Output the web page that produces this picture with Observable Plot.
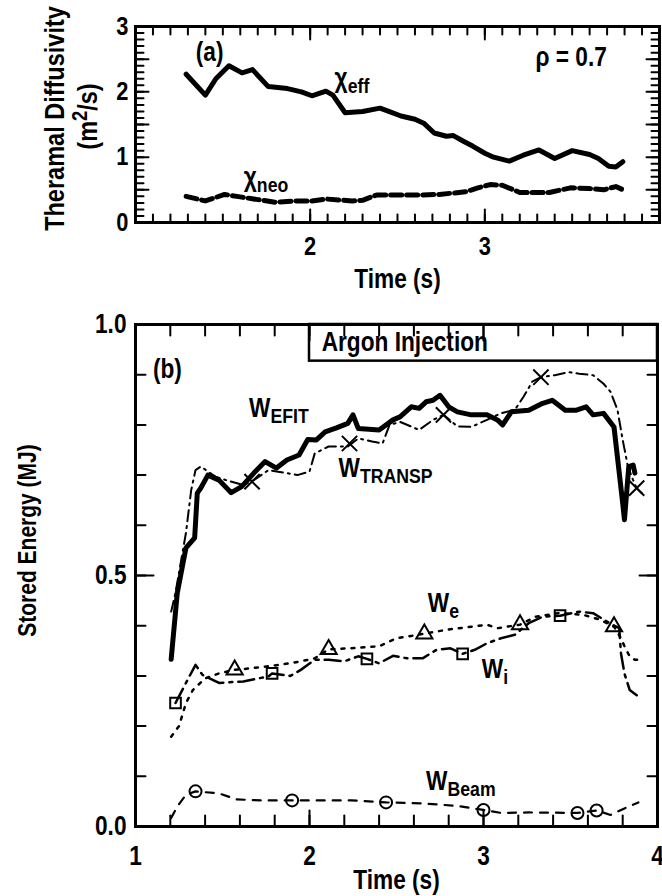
<!DOCTYPE html>
<html><head><meta charset="utf-8">
<script src="https://cdn.jsdelivr.net/npm/d3@7"></script>
<script src="https://cdn.jsdelivr.net/npm/@observablehq/plot@0.6"></script>
<style>
body{margin:0;background:#fff}
#chart{position:relative;width:662px;height:896px;background:#fff}
#chart svg{display:block}
</style>
</head><body><div id="chart"></div>
<script>
// ---------- Panel (a): thermal diffusivity at rho = 0.7 ----------
const chiEffT = [1.29,1.40,1.46,1.535,1.61,1.67,1.76,1.87,1.95,2.01,2.09,2.13,2.20,2.30,2.40,2.45,2.52,2.60,2.65,2.71,2.78,2.82,2.88,2.93,3.00,3.05,3.14,3.22,3.31,3.40,3.50,3.60,3.65,3.71,3.75,3.79];
const chiEffV = [2.27,1.95,2.20,2.40,2.29,2.34,2.08,2.05,2.00,1.94,2.01,1.95,1.68,1.70,1.75,1.70,1.63,1.58,1.52,1.37,1.32,1.33,1.24,1.17,1.06,1.00,0.94,1.03,1.11,0.98,1.10,1.04,0.98,0.86,0.85,0.93];
const chiNeoT = [1.29,1.40,1.51,1.58,1.70,1.80,1.92,2.01,2.09,2.24,2.30,2.38,2.50,2.64,2.74,2.89,2.96,3.03,3.10,3.20,3.30,3.37,3.49,3.60,3.68,3.75,3.80];
const chiNeoV = [0.40,0.33,0.43,0.40,0.35,0.31,0.33,0.33,0.36,0.33,0.34,0.42,0.42,0.42,0.43,0.47,0.53,0.58,0.57,0.46,0.46,0.46,0.53,0.52,0.50,0.55,0.49];

// ---------- Panel (b): stored energy ----------
const wEfitT = [1.205,1.24,1.29,1.34,1.355,1.375,1.416,1.48,1.55,1.61,1.68,1.745,1.81,1.87,1.94,1.99,2.04,2.09,2.155,2.22,2.25,2.28,2.40,2.48,2.52,2.585,2.63,2.67,2.71,2.75,2.80,2.85,2.93,3.02,3.08,3.11,3.16,3.26,3.34,3.395,3.47,3.53,3.59,3.63,3.69,3.75,3.80,3.81,3.835,3.86,3.87];
const wEfitV = [0.333,0.465,0.555,0.575,0.664,0.674,0.700,0.690,0.665,0.677,0.704,0.727,0.714,0.730,0.740,0.771,0.770,0.786,0.794,0.803,0.820,0.793,0.790,0.810,0.816,0.836,0.833,0.846,0.849,0.859,0.836,0.826,0.820,0.820,0.810,0.800,0.826,0.829,0.843,0.849,0.829,0.829,0.836,0.820,0.823,0.796,0.644,0.611,0.717,0.720,0.704];
const wTranspT = [1.205,1.23,1.29,1.32,1.345,1.375,1.46,1.52,1.62,1.68,1.765,1.87,1.93,2.00,2.03,2.11,2.22,2.28,2.36,2.42,2.46,2.52,2.63,2.71,2.77,2.85,2.93,3.02,3.10,3.18,3.23,3.28,3.33,3.41,3.49,3.55,3.63,3.69,3.73,3.77,3.80,3.83,3.86,3.88,3.91];
const wTranspV = [0.428,0.466,0.585,0.670,0.710,0.717,0.697,0.690,0.680,0.690,0.710,0.704,0.700,0.707,0.743,0.757,0.757,0.773,0.767,0.763,0.800,0.806,0.790,0.810,0.820,0.797,0.796,0.810,0.823,0.830,0.856,0.886,0.895,0.899,0.905,0.902,0.899,0.882,0.866,0.830,0.770,0.717,0.690,0.674,0.664];
const wTranspMarkT = [1.67,2.23,2.77,3.33,3.88];
const wTranspMarkV = [0.687,0.763,0.820,0.895,0.674];
const wET = [1.205,1.25,1.29,1.33,1.40,1.48,1.57,1.66,1.83,1.95,2.03,2.11,2.24,2.40,2.50,2.66,2.79,2.93,3.02,3.08,3.21,3.30,3.43,3.57,3.67,3.75,3.79,3.81,3.84,3.87,3.90];
const wEV = [0.179,0.200,0.246,0.272,0.295,0.305,0.312,0.315,0.322,0.329,0.335,0.353,0.355,0.359,0.375,0.384,0.392,0.398,0.402,0.395,0.402,0.418,0.425,0.422,0.412,0.398,0.375,0.359,0.339,0.332,0.332];
const wEMarkT = [1.57,2.11,2.66,3.21,3.75];
const wEMarkV = [0.312,0.353,0.384,0.402,0.398];
const wIT = [1.23,1.29,1.345,1.385,1.48,1.62,1.765,1.785,1.89,1.95,2.03,2.11,2.20,2.28,2.33,2.40,2.48,2.56,2.65,2.73,2.81,2.88,2.95,3.02,3.10,3.18,3.26,3.34,3.44,3.55,3.63,3.71,3.78,3.79,3.81,3.84,3.89];
const wIV = [0.246,0.286,0.322,0.302,0.286,0.289,0.299,0.305,0.300,0.312,0.332,0.332,0.329,0.339,0.334,0.325,0.340,0.335,0.335,0.352,0.355,0.344,0.352,0.365,0.375,0.382,0.405,0.418,0.420,0.428,0.425,0.408,0.395,0.345,0.305,0.272,0.259];
const wIMarkT = [1.23,1.785,2.33,2.88,3.44];
const wIMarkV = [0.246,0.305,0.334,0.344,0.420];
const wBeamT = [1.205,1.24,1.29,1.345,1.48,1.58,1.72,1.90,2.03,2.24,2.44,2.65,2.85,3.00,3.10,3.26,3.54,3.65,3.73,3.81,3.89];
const wBeamV = [0.017,0.040,0.063,0.070,0.066,0.054,0.052,0.052,0.052,0.052,0.048,0.046,0.041,0.033,0.027,0.028,0.027,0.032,0.023,0.036,0.048];
const wBeamMarkT = [1.345,1.90,2.44,3.00,3.54,3.65];
const wBeamMarkV = [0.070,0.052,0.048,0.033,0.027,0.032];

// ---------- ticks and labels ----------
const topXLabelTicks = [2, 3];
const topYLabelTicks = [0, 1, 2, 3];
const botXLabelTicks = [1, 2, 3, 4];
const botYLabelTicks = [0, 0.5, 1.0];
const argonBox = [{x1: 2.0, x2: 4.0, y1: 0.927, y2: 1.0}];
const topLabels = [
  {t: 1.345, v: 2.47, s: "(a)"},
  {t: 3.29, v: 2.40, s: "ρ = 0.7"},
  {t: 2.14, v: 2.07, s: "χ_{eff}"},
  {t: 1.62, v: 0.56, s: "χ_{neo}"}
];
const botLabels = [
  {t: 1.10, v: 0.893, s: "(b)"},
  {t: 2.07, v: 0.948, s: "Argon Injection"},
  {t: 1.653, v: 0.816, s: "W_{EFIT}"},
  {t: 2.167, v: 0.697, s: "W_{TRANSP}"},
  {t: 2.68, v: 0.428, s: "W_{e}"},
  {t: 2.99, v: 0.295, s: "W_{i}"},
  {t: 2.67, v: 0.072, s: "W_{Beam}"}
];

const FONT = "'Liberation Sans',Arial,sans-serif";
const SQUEEZE = 0.84;
const rows = (t, v) => t.map((x, i) => ({t: x, v: v[i]}));
const tenths = (a, b) => d3.range(a, b + 1).map(d => d / 10);
const fifths = (a, b) => d3.range(a, b + 1).map(d => d / 5);

// layout
const TOP = {width: 662, height: 300, marginLeft: 135, marginRight: 3, marginTop: 26, marginBottom: 78};
const BOT = {width: 662, height: 596, marginLeft: 135, marginRight: 5, marginTop: 24, marginBottom: 70};
const XDOM = [1, 4];
const frameW = L => L.width - L.marginLeft - L.marginRight;
const frameH = L => L.height - L.marginTop - L.marginBottom;

// inward tick marks as short two-point line segments (length given in pixels)
function tickSegments(L, yDom, specs) {
  const kx = (XDOM[1] - XDOM[0]) / frameW(L), ky = (yDom[1] - yDom[0]) / frameH(L);
  const out = [];
  let id = 0;
  for (const {side, vals, len} of specs) {
    for (const v of vals) {
      id++;
      if (side === "bottom") out.push({t: v, v: yDom[0], k: id}, {t: v, v: yDom[0] + len * ky, k: id});
      if (side === "top") out.push({t: v, v: yDom[1], k: id}, {t: v, v: yDom[1] - len * ky, k: id});
      if (side === "left") out.push({t: XDOM[0], v, k: id}, {t: XDOM[0] + len * kx, v, k: id});
      if (side === "right") out.push({t: XDOM[1], v, k: id}, {t: XDOM[1] - len * kx, v, k: id});
    }
  }
  return Plot.line(out, {x: "t", y: "v", z: "k", stroke: "black", strokeWidth: 2});
}

// Convert _{sub} and ^{sup} markup into tspans (real text)
function rich(svg) {
  d3.select(svg).selectAll("text").each(function() {
    if (this.querySelector("tspan")) return;
    const s = this.textContent;
    if (!/[_^]\{/.test(s)) return;
    const el = d3.select(this);
    el.text(null);
    const re = /([_^])\{([^}]*)\}/g;
    let last = 0, m, shift = 0;
    while ((m = re.exec(s))) {
      if (m.index > last) {
        el.append("tspan").attr("dy", (-shift) + "px").text(s.slice(last, m.index));
        shift = 0;
      }
      const d = m[1] === "_" ? 6 : -10;
      el.append("tspan").attr("dy", (d - shift) + "px").attr("font-size", "0.78em").text(m[2]);
      shift = d;
      last = re.lastIndex;
    }
    if (last < s.length) el.append("tspan").attr("dy", (-shift) + "px").text(s.slice(last));
  });
}
// condensed look: squeeze glyphs along the text direction around the anchor
function condense(svg) {
  d3.select(svg).selectAll("text").each(function() {
    const tr = this.getAttribute("transform");
    if (tr) this.setAttribute("transform", tr + ` scale(${SQUEEZE},1)`);
  });
}

const style = {fontFamily: FONT, fontWeight: "bold", background: "white", color: "black", overflow: "visible"};
const chart = document.getElementById("chart");

function panel(L, yDomain, marks) {
  const svg = Plot.plot({...L, style, x: {domain: XDOM}, y: {domain: yDomain}, marks});
  chart.appendChild(svg);
  rich(svg);
  condense(svg);
}

// ---------- Top panel ----------
panel(TOP, [0, 3], [
  Plot.line(rows(chiEffT, chiEffV), {x: "t", y: "v", stroke: "black", strokeWidth: 5, strokeLinejoin: "round"}),
  Plot.line(rows(chiNeoT, chiNeoV), {x: "t", y: "v", stroke: "black", strokeWidth: 5, strokeDasharray: "11,5"}),
  tickSegments(TOP, [0, 3], [
    {side: "bottom", vals: tenths(11, 39), len: 8},
    {side: "top", vals: tenths(11, 39), len: 8},
    {side: "bottom", vals: topXLabelTicks, len: 13},
    {side: "top", vals: topXLabelTicks, len: 13},
    {side: "left", vals: tenths(1, 29), len: 8},
    {side: "right", vals: tenths(1, 29), len: 8},
    {side: "left", vals: [0.5, 1, 1.5, 2, 2.5], len: 13},
    {side: "right", vals: [0.5, 1, 1.5, 2, 2.5], len: 13}
  ]),
  Plot.axisX({ticks: topXLabelTicks, anchor: "bottom", tickSize: 0, tickPadding: 14, fontSize: 26, tickFormat: d3.format("d"), label: null}),
  Plot.axisY({ticks: topYLabelTicks, anchor: "left", tickSize: 0, tickPadding: 7, fontSize: 26, tickFormat: d3.format("d"), label: null}),
  Plot.text(topLabels, {x: "t", y: "v", text: "s", textAnchor: "start", lineAnchor: "bottom", fontSize: 27}),
  Plot.text(["Time (s)"], {text: d => d, frameAnchor: "bottom", dy: 57, fontSize: 27, textAnchor: "middle", lineAnchor: "middle"}),
  Plot.text(["Theramal Diffusivity"], {text: d => d, frameAnchor: "left", rotate: -90, dx: -80, dy: -6, fontSize: 28, textAnchor: "middle", lineAnchor: "middle"}),
  Plot.text(["(m^{2}/s)"], {text: d => d, frameAnchor: "left", rotate: -90, dx: -47, dy: -8, fontSize: 28, textAnchor: "middle", lineAnchor: "middle"}),
  Plot.frame({strokeWidth: 3})
]);

// ---------- Bottom panel ----------
panel(BOT, [0, 1], [
  Plot.line(rows(wTranspT, wTranspV), {x: "t", y: "v", stroke: "black", strokeWidth: 2, strokeDasharray: "11,5,2,5"}),
  Plot.line(rows(wEfitT, wEfitV), {x: "t", y: "v", stroke: "black", strokeWidth: 5, strokeLinejoin: "round"}),
  Plot.dot(rows(wTranspMarkT, wTranspMarkV), {x: "t", y: "v", symbol: "times", r: 7, stroke: "black", strokeWidth: 2}),
  Plot.line(rows(wET, wEV), {x: "t", y: "v", stroke: "black", strokeWidth: 2.5, strokeDasharray: "3,7"}),
  Plot.dot(rows(wEMarkT, wEMarkV), {x: "t", y: "v", symbol: "triangle", r: 6, stroke: "black", strokeWidth: 2, fill: "none"}),
  Plot.line(rows(wIT, wIV), {x: "t", y: "v", stroke: "black", strokeWidth: 2.5, strokeDasharray: "16,6,3,6"}),
  Plot.dot(rows(wIMarkT, wIMarkV), {x: "t", y: "v", symbol: "square", r: 6, stroke: "black", strokeWidth: 2, fill: "none"}),
  Plot.line(rows(wBeamT, wBeamV), {x: "t", y: "v", stroke: "black", strokeWidth: 2.2, strokeDasharray: "8,8"}),
  Plot.dot(rows(wBeamMarkT, wBeamMarkV), {x: "t", y: "v", symbol: "circle", r: 6, stroke: "black", strokeWidth: 2, fill: "none"}),
  Plot.rect(argonBox, {x1: "x1", x2: "x2", y1: "y1", y2: "y2", fill: "white", stroke: "black", strokeWidth: 2.5}),
  tickSegments(BOT, [0, 1], [
    {side: "bottom", vals: fifths(6, 19), len: 11},
    {side: "top", vals: fifths(6, 19), len: 11},
    {side: "bottom", vals: [2, 3], len: 16},
    {side: "top", vals: [2, 3], len: 16},
    {side: "left", vals: tenths(1, 9), len: 10},
    {side: "right", vals: tenths(1, 9), len: 10},
    {side: "left", vals: [0.5], len: 18},
    {side: "right", vals: [0.5], len: 18}
  ]),
  Plot.axisX({ticks: botXLabelTicks, anchor: "bottom", tickSize: 0, tickPadding: 19, fontSize: 27, tickFormat: d3.format("d"), label: null}),
  Plot.axisY({ticks: botYLabelTicks, anchor: "left", tickSize: 0, tickPadding: 9, fontSize: 27, tickFormat: d3.format(".1f"), label: null}),
  Plot.text(botLabels, {x: "t", y: "v", text: "s", textAnchor: "start", lineAnchor: "bottom", fontSize: 27}),
  Plot.text(["Time (s)"], {text: d => d, frameAnchor: "bottom", dy: 54, fontSize: 27, textAnchor: "middle", lineAnchor: "middle"}),
  Plot.text(["Stored Energy (MJ)"], {text: d => d, frameAnchor: "left", rotate: -90, dx: -108, dy: -35, fontSize: 25, textAnchor: "middle", lineAnchor: "middle"}),
  Plot.frame({strokeWidth: 3})
]);
</script></body></html>
